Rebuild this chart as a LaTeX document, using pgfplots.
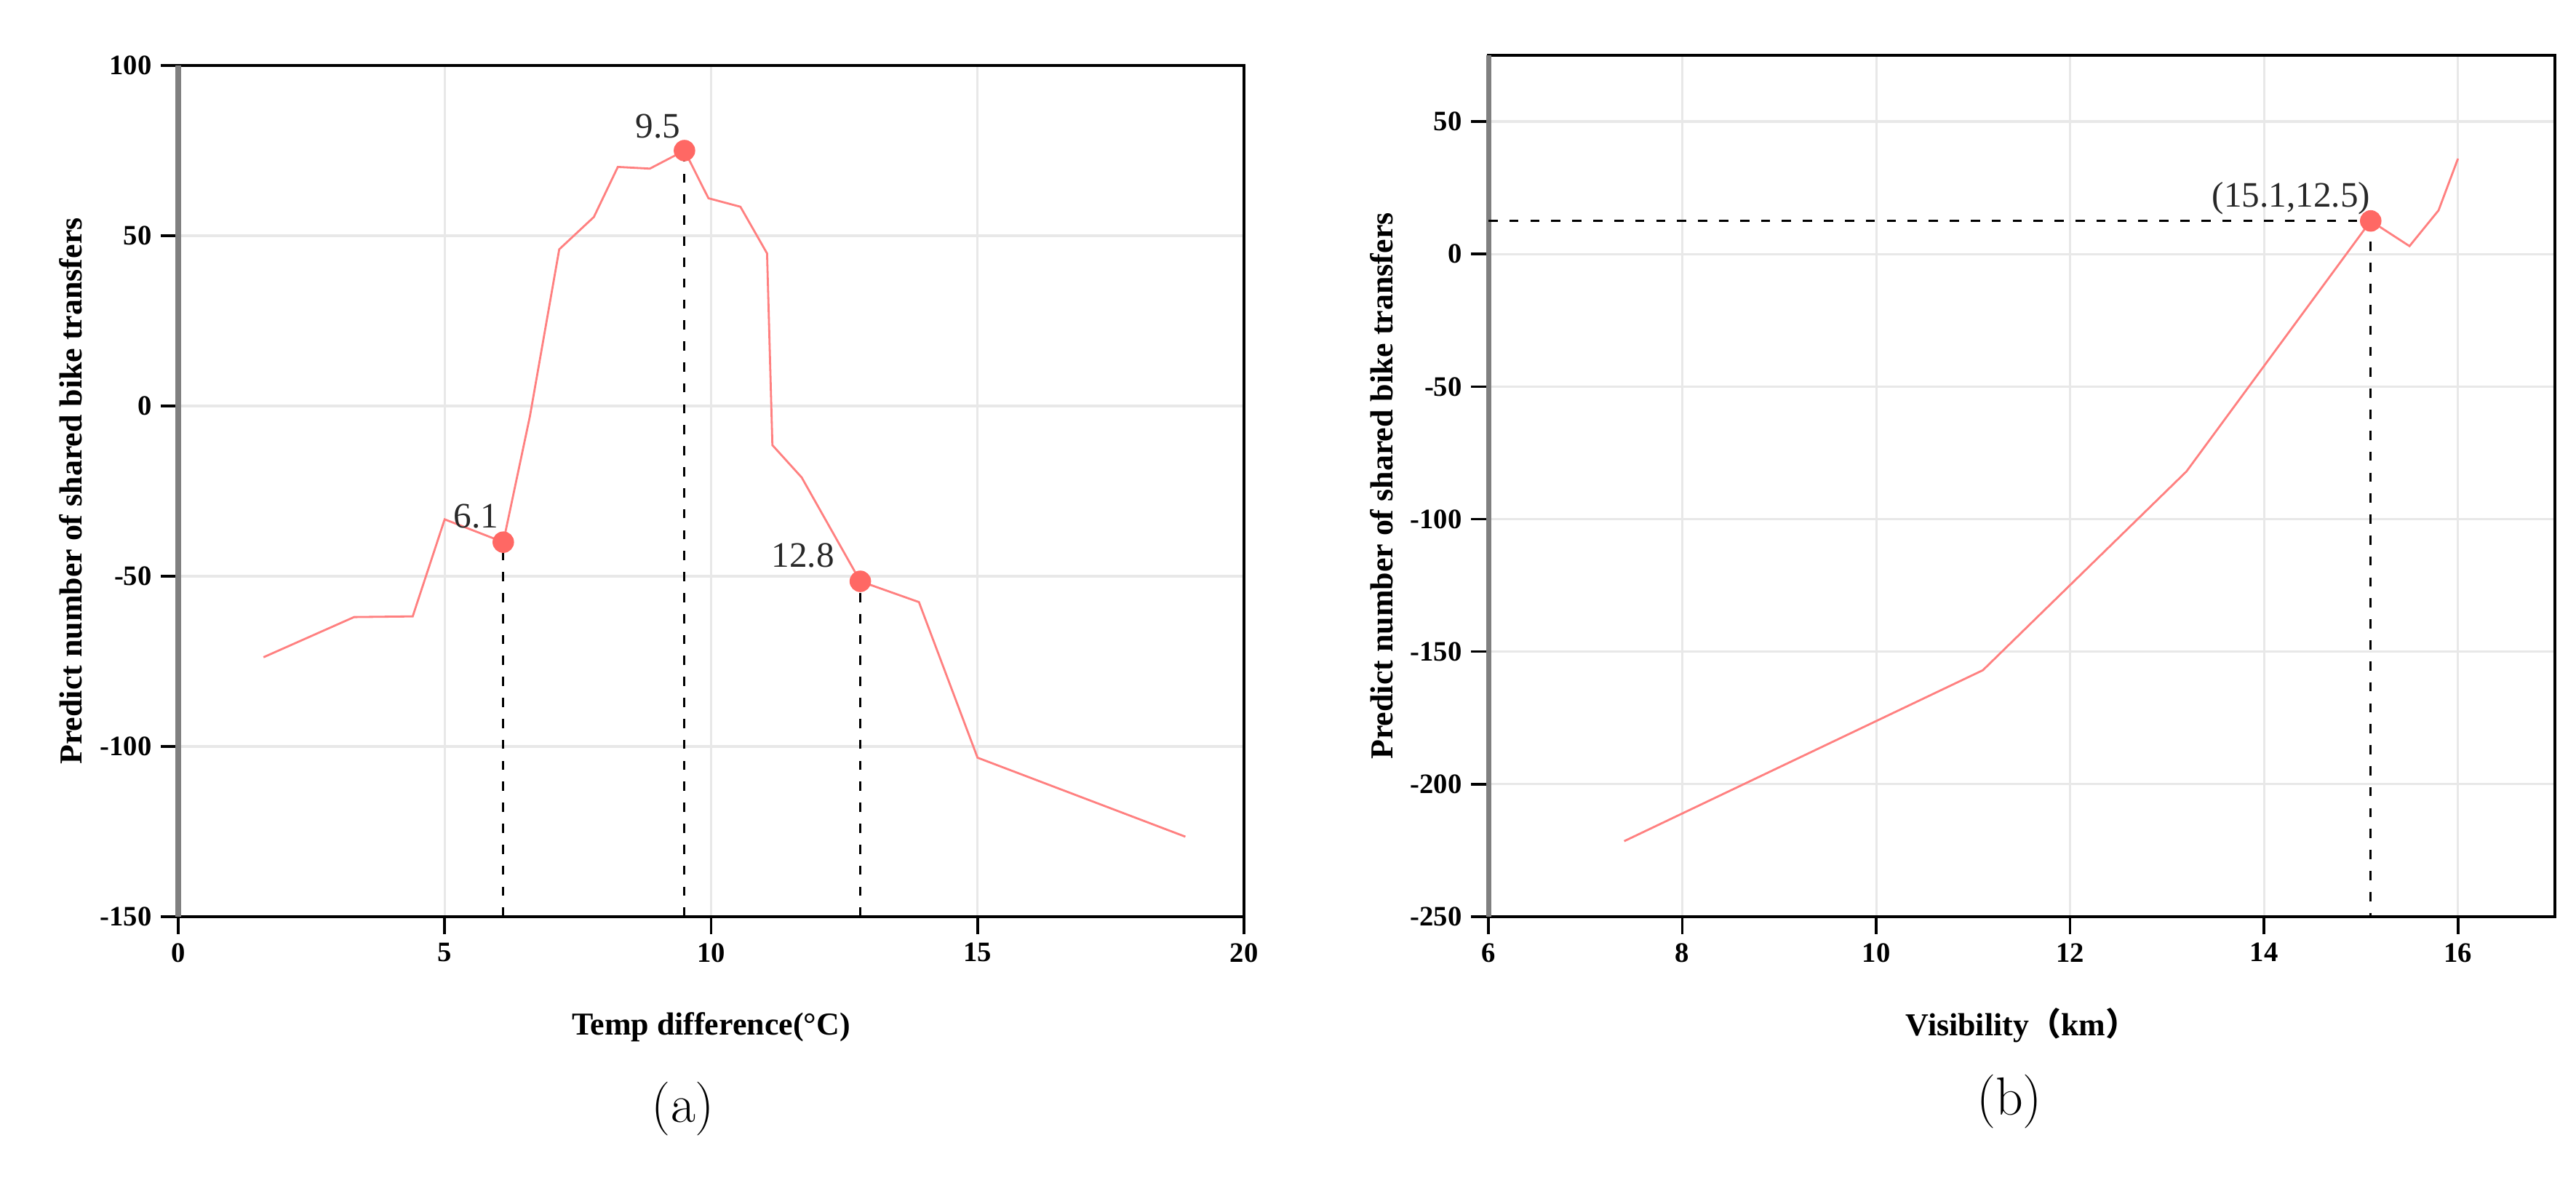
\documentclass[border=0pt]{standalone}
\usepackage{fontspec}
\usepackage{pgfplots}
\pgfplotsset{compat=1.18}
\newfontfamily\tnr{Liberation Serif}
\newfontfamily\cjk{Noto Sans CJK SC}
\definecolor{curvecol}{RGB}{255,128,128}
\definecolor{dotcol}{RGB}{255,104,100}
\definecolor{gridcol}{RGB}{232,232,232}
\definecolor{yaxcol}{RGB}{128,128,128}
\definecolor{anncol}{RGB}{40,40,40}

\pgfplotsset{
  panel/.style={
    scale only axis, anchor=south west,
    grid=major, major grid style={gridcol, line width=0.9pt},
    axis line style={black, line width=1.1pt},
    tick align=outside, tick pos=left,
    major tick length=0.24cm,
    tick style={black, line width=1pt},
    tick label style={font=\tnr\bfseries\fontsize{11}{13}\selectfont},
    /pgf/number format/assume math mode=true,
    label style={font=\tnr\bfseries\fontsize{12.5}{15}\selectfont},
    clip=false,
  },
  redline/.style={curvecol, line width=0.8pt, no marks},
  guide/.style={black, line width=0.85pt, dash pattern=on 3.6pt off 4.6pt, no marks},
  dotmark/.style={only marks, dotcol, mark=*, mark size=4pt, mark options={fill=dotcol, draw=dotcol, solid}},
}
\tikzset{ann/.style={font=\tnr\fontsize{14}{16}\selectfont, text=anncol, inner sep=0pt, anchor=base east}}

\begin{document}
\begin{tikzpicture}
\path (0,0) rectangle (35.41,16.37);

% (a) temp difference
\begin{axis}[panel,
  at={(2.45cm,3.77cm)}, width=14.65cm, height=11.70cm,
  xmin=0, xmax=20, ymin=-150, ymax=100,
  xtick={0,5,...,20}, ytick={-150,-100,...,100},
  xlabel={Temp difference(°C)},
  ylabel={Predict number of shared bike transfers},
  xlabel style={at={(axis description cs:0.5,-0.1393)}, anchor=base},
  ylabel style={at={(axis description cs:-0.0901,0.5)}, anchor=base},
]
\draw[yaxcol, line width=2pt] (rel axis cs:0,0) -- (rel axis cs:0,1);
\addplot[redline] coordinates {
  (1.6,-73.8) (3.3,-62.0) (4.4,-61.8) (5.0,-33.3) (6.1,-40.0)
  (6.6,-3.0) (7.15,46.0) (7.8,55.5) (8.25,70.2) (8.85,69.7)
  (9.5,75.0) (9.95,61.0) (10.55,58.5) (11.05,44.8) (11.15,-11.5)
  (11.7,-21.0) (12.8,-51.5) (13.9,-57.6) (15.0,-103.3) (18.9,-126.5)
};
\addplot[guide] coordinates {(6.1,-150) (6.1,-40)};
\addplot[guide] coordinates {(9.5,-150) (9.5,75)};
\addplot[guide] coordinates {(12.8,-150) (12.8,-51.5)};
\addplot[dotmark] coordinates {(6.1,-40) (9.5,75) (12.8,-51.5)};
\node[ann, xshift=-0.06cm, yshift=0.20cm] at (axis cs:6.1,-40) {6.1};
\node[ann, xshift=-0.05cm, yshift=0.17cm] at (axis cs:9.5,75) {9.5};
\node[ann, xshift=-0.35cm, yshift=0.20cm] at (axis cs:12.8,-51.5) {12.8};
\end{axis}

% (b) visibility
\begin{axis}[panel,
  at={(20.46cm,3.77cm)}, width=14.66cm, height=11.84cm,
  xmin=6, xmax=17, ymin=-250, ymax=75,
  xtick={6,8,...,16}, ytick={-250,-200,...,50},
  xlabel={Visibility{\cjk （}km{\cjk ）}},
  ylabel={Predict number of shared bike transfers},
  xlabel style={at={(axis description cs:0.5,-0.1377)}, anchor=base},
  ylabel style={at={(axis description cs:-0.0894,0.5)}, anchor=base},
]
\draw[yaxcol, line width=2pt] (rel axis cs:0,0) -- (rel axis cs:0,1);
\addplot[redline] coordinates {
  (7.4,-221.5) (11.1,-157.0) (13.2,-82.0) (15.1,12.5)
  (15.5,3.0) (15.8,16.5) (16.0,36.0)
};
\addplot[guide] coordinates {(6,12.5) (15.1,12.5)};
\addplot[guide] coordinates {(15.1,12.5) (15.1,-250)};
\addplot[dotmark] coordinates {(15.1,12.5)};
\node[ann, yshift=0.19cm] at (axis cs:15.1,12.5) {(15.1,12.5)};
\end{axis}

\node[font=\fontsize{21}{25}\selectfont, anchor=base] at (9.39,0.94) {(a)};
\node[font=\fontsize{21}{25}\selectfont, anchor=base] at (27.62,1.04) {(b)};
\end{tikzpicture}
\end{document}
